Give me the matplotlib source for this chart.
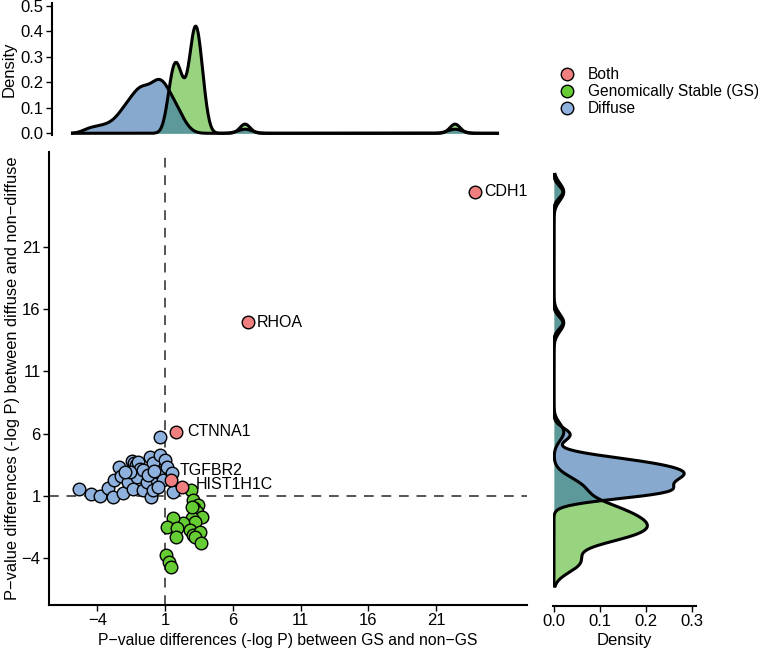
import numpy as np
import matplotlib
matplotlib.use('Agg')
import matplotlib.pyplot as plt
from matplotlib.lines import Line2D

plt.rcParams['font.family'] = ['Liberation Sans', 'DejaVu Sans']
plt.rcParams['font.size'] = 11

# values
diffuse_x = [-5.32, -4.46, -3.80, -3.23, -2.82, -2.74, -2.37, -2.27, -2.08, -1.75,
             -1.46, -1.29, -1.14, -0.97, -0.85, -1.34, -1.09, -0.60, -0.35, -0.06,
             -0.11, 0.14, 0.39, 0.51, 0.63, 0.63, 0.83, 1.00, 1.12, 1.49,
             1.57, -0.60, -0.23, -1.58, -1.95, 0.19, 0.14, 0.46]
diffuse_y = [1.54, 1.16, 1.00, 1.64, 0.95, 2.29, 3.35, 2.61, 1.22, 2.10,
             3.81, 3.68, 3.49, 3.76, 3.14, 1.54, 2.55, 1.48, 2.15, 0.95,
             4.16, 3.63, 2.29, 2.95, 4.29, 5.76, 2.29, 3.89, 3.35, 2.82,
             1.35, 3.09, 2.69, 2.95, 2.95, 3.00, 1.48, 1.70]

gs_x = [2.89, 3.04, 3.46, 3.14, 3.34, 3.71, 2.97, 3.21, 2.35, 1.61, 1.17,
        1.86, 1.81, 2.85, 3.04, 3.58, 3.21, 3.63, 1.07, 1.32, 1.42, 2.97]
gs_y = [1.48, 0.68, 0.28, 0.01, -0.26, -0.66, -0.79, -1.06, -1.14, -0.79, -1.46,
        -1.60, -2.27, -1.73, -2.13, -1.87, -2.32, -2.75, -3.74, -4.27, -4.68, 0.14]

both_genes = ['CDH1', 'RHOA', 'CTNNA1', 'TGFBR2', 'HIST1H1C']
both_x = [23.9, 7.1, 1.79, 1.44, 2.25]
both_y = [25.4, 14.92, 6.17, 2.29, 1.70]

ticks = [-4, 1, 6, 11, 16, 21]

col_both = '#F08080'
col_gs = '#66CC33'
col_diffuse = '#8EB1DD'
fill_gs = '#98D480'
fill_diffuse = '#3771AC'


def kde(vals, grid, adjust=0.8):
    # gaussian kernel, bandwidth as R's bw.nrd0 times adjust
    vals = np.asarray(vals)
    n = len(vals)
    sd = np.std(vals, ddof=1)
    q75, q25 = np.percentile(vals, [75, 25])
    bw = adjust * 0.9 * min(sd, (q75 - q25) / 1.34) * n ** -0.2
    z = (grid[:, None] - vals[None, :]) / bw
    return np.exp(-0.5 * z ** 2).sum(axis=1) / (n * bw * np.sqrt(2 * np.pi))


W, H = 758, 651
fig = plt.figure(figsize=(W / 100, H / 100), dpi=100)


def box(l, t, r, b):
    return [l / W, 1 - b / H, (r - l) / W, (b - t) / H]


ax = fig.add_axes(box(49, 152, 527, 605))
ax_top = fig.add_axes(box(52, 3, 527, 135))
ax_right = fig.add_axes(box(553, 152, 696, 606))

# main scatter
ax.axvline(1, color='#555555', ls=(0, (5, 4)), lw=1.4, zorder=1)
ax.axhline(1, color='#555555', ls=(0, (5, 4)), lw=1.4, zorder=1)
ax.scatter(diffuse_x, diffuse_y, s=82, c=col_diffuse, edgecolors='black', linewidths=1, zorder=3)
ax.scatter(gs_x, gs_y, s=82, c=col_gs, edgecolors='black', linewidths=1, zorder=3)
ax.scatter(both_x, both_y, s=82, c=col_both, edgecolors='black', linewidths=1, zorder=4)

offsets = {'CDH1': (6, 0), 'RHOA': (6.5, 0), 'CTNNA1': (8.5, 0),
           'TGFBR2': (6.5, 7), 'HIST1H1C': (10, 2)}
for g, x, y in zip(both_genes, both_x, both_y):
    ax.annotate(g, (x, y), xytext=offsets[g], textcoords='offset points',
                ha='left', va='center', fontsize=11.5, zorder=5)

ax.set_xlim(-7.56, 27.7)
ax.set_ylim(-7.75, 28.6)
ax.set_xticks(ticks)
ax.set_yticks(ticks)
ax.set_xticklabels([str(t).replace('-', '\u2212') for t in ticks])
ax.set_yticklabels([str(t).replace('-', '\u2212') for t in ticks])
for s in ['top', 'right']:
    ax.spines[s].set_visible(False)
for s in ['left', 'bottom']:
    ax.spines[s].set_linewidth(1.5)
ax.tick_params(length=4, width=1, pad=2, labelsize=12)
ax.set_xlabel('P\u2212value differences (-log P) between GS and non\u2212GS',
              fontsize=11.3, labelpad=3)
ax.set_ylabel('P\u2212value differences (-log P) between diffuse and non\u2212diffuse',
              fontsize=11.8, labelpad=1)

# top density (x values)
gx = np.linspace(-6.7, 27.3, 600)
dens_gs_x = kde(gs_x + both_x, gx)
dens_dif_x = kde(diffuse_x + both_x, gx)
ax_top.fill_between(gx, 0, dens_gs_x, color=fill_gs, lw=0)
ax_top.plot(gx, dens_gs_x, color='black', lw=2.2)
ax_top.fill_between(gx, 0, dens_dif_x, color=fill_diffuse, alpha=0.6, lw=0)
ax_top.plot(gx, dens_dif_x, color='black', lw=2.2)
ax_top.set_xlim(-8.34, 29.66)
ax_top.set_ylim(-0.0067, 0.5118)
ax_top.set_yticks([0, 0.1, 0.2, 0.3, 0.4, 0.5])
ax_top.set_yticklabels(['0.0', '0.1', '0.2', '0.3', '0.4', '0.5'])
ax_top.set_xticks([])
for s in ['top', 'right', 'bottom']:
    ax_top.spines[s].set_visible(False)
ax_top.spines['left'].set_linewidth(1.5)
ax_top.tick_params(length=4, width=1, pad=2, labelsize=12)
ax_top.set_ylabel('Density', fontsize=12, labelpad=3)

# right density (y values)
gy = np.linspace(-6.15, 26.8, 600)
dens_gs_y = kde(gs_y + both_y, gy)
dens_dif_y = kde(diffuse_y + both_y, gy)
ax_right.fill_betweenx(gy, 0, dens_gs_y, color=fill_gs, lw=0)
ax_right.plot(dens_gs_y, gy, color='black', lw=2.2)
ax_right.fill_betweenx(gy, 0, dens_dif_y, color=fill_diffuse, alpha=0.6, lw=0)
ax_right.plot(dens_dif_y, gy, color='black', lw=2.2)
ax_right.set_ylim(-7.75, 28.6)
ax_right.set_xlim(-0.002, 0.3093)
ax_right.set_xticks([0, 0.1, 0.2, 0.3])
ax_right.set_xticklabels(['0.0', '0.1', '0.2', '0.3'])
ax_right.set_yticks([])
for s in ['top', 'right', 'left']:
    ax_right.spines[s].set_visible(False)
ax_right.spines['bottom'].set_linewidth(1.5)
ax_right.tick_params(length=4, width=1, pad=2, labelsize=12)
ax_right.set_xlabel('Density', fontsize=12, labelpad=3)

handles = [Line2D([], [], marker='o', ls='', mfc=c, mec='black', ms=9, mew=1)
           for c in [col_both, col_gs, col_diffuse]]
fig.legend(handles, ['Both', 'Genomically Stable (GS)', 'Diffuse'],
           loc='upper left', bbox_to_anchor=(551 / W, 1 - 61 / H), frameon=False,
           handletextpad=0.75, labelspacing=0.12, borderaxespad=0, fontsize=11.2,
           handlelength=1.2)

fig.savefig('out.png', dpi=100)
